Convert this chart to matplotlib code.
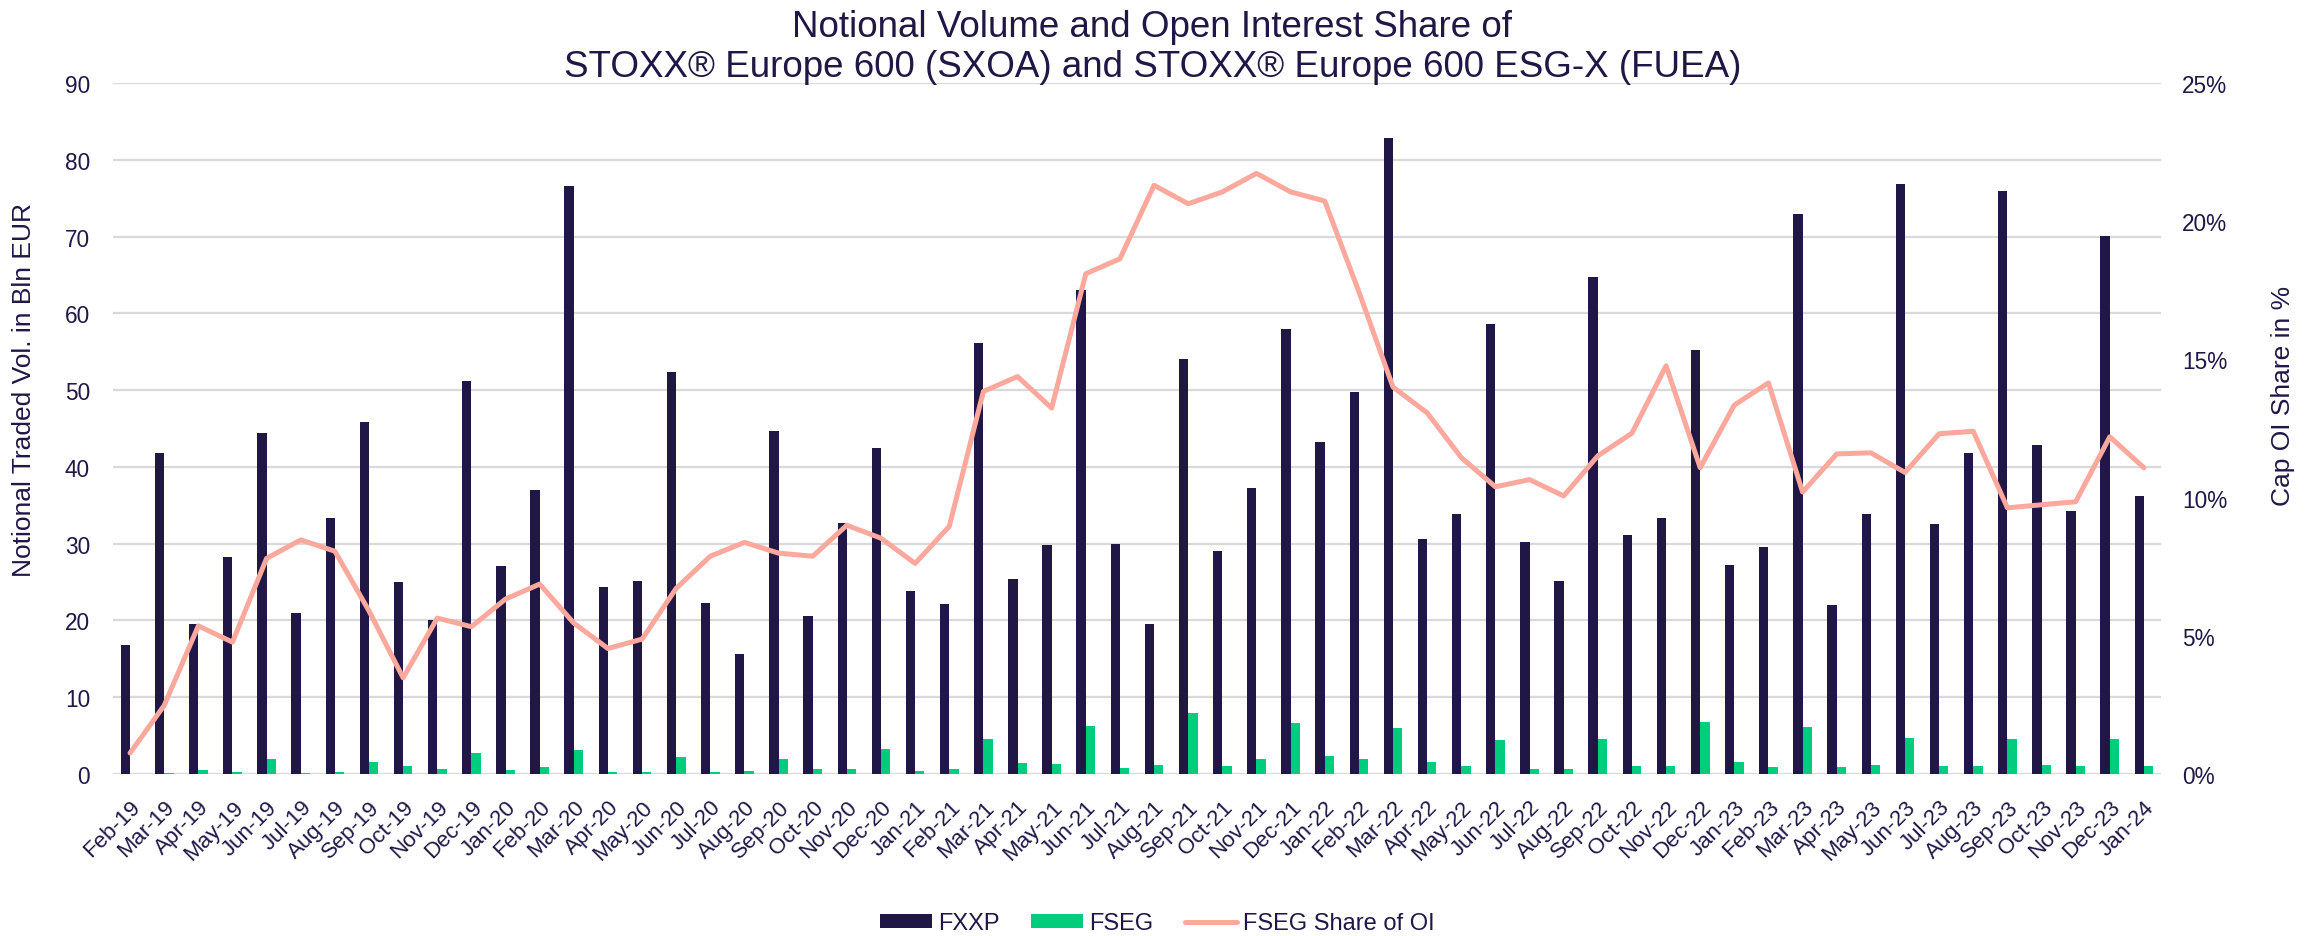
import numpy as np
import matplotlib.pyplot as plt
from matplotlib.ticker import PercentFormatter

plt.rcParams['font.family'] = ['Liberation Sans', 'DejaVu Sans']

# Monthly data, Feb-19 .. Jan-24
months = ['Feb-19', 'Mar-19', 'Apr-19', 'May-19', 'Jun-19', 'Jul-19', 'Aug-19', 'Sep-19',
          'Oct-19', 'Nov-19', 'Dec-19', 'Jan-20', 'Feb-20', 'Mar-20', 'Apr-20', 'May-20',
          'Jun-20', 'Jul-20', 'Aug-20', 'Sep-20', 'Oct-20', 'Nov-20', 'Dec-20', 'Jan-21',
          'Feb-21', 'Mar-21', 'Apr-21', 'May-21', 'Jun-21', 'Jul-21', 'Aug-21', 'Sep-21',
          'Oct-21', 'Nov-21', 'Dec-21', 'Jan-22', 'Feb-22', 'Mar-22', 'Apr-22', 'May-22',
          'Jun-22', 'Jul-22', 'Aug-22', 'Sep-22', 'Oct-22', 'Nov-22', 'Dec-22', 'Jan-23',
          'Feb-23', 'Mar-23', 'Apr-23', 'May-23', 'Jun-23', 'Jul-23', 'Aug-23', 'Sep-23',
          'Oct-23', 'Nov-23', 'Dec-23', 'Jan-24']

# notional traded volume, bln EUR
fxxp = [16.8, 41.8, 19.5, 28.2, 44.4, 21.0, 33.3, 45.8, 25.0, 20.1, 51.2, 27.1,
        37.0, 76.6, 24.3, 25.2, 52.4, 22.3, 15.6, 44.7, 20.6, 32.7, 42.4, 23.8,
        22.2, 56.2, 25.4, 29.8, 63.1, 29.9, 19.5, 54.1, 29.0, 37.3, 58.0, 43.3,
        49.7, 82.8, 30.6, 33.8, 58.6, 30.2, 25.2, 64.7, 31.1, 33.3, 55.2, 27.2,
        29.6, 73.0, 22.0, 33.9, 76.8, 32.6, 41.8, 75.9, 42.9, 34.3, 70.1, 36.2]

fseg = [0.05, 0.15, 0.5, 0.3, 1.9, 0.15, 0.3, 1.55, 1.1, 0.6, 2.8, 0.55,
        0.85, 3.1, 0.2, 0.2, 2.2, 0.3, 0.4, 2.0, 0.6, 0.7, 3.3, 0.45,
        0.7, 4.6, 1.4, 1.25, 6.2, 0.8, 1.2, 8.0, 1.0, 2.0, 6.6, 2.4,
        1.9, 6.0, 1.6, 1.1, 4.4, 0.6, 0.6, 4.5, 1.0, 1.1, 6.8, 1.55,
        0.85, 6.1, 0.85, 1.15, 4.75, 1.1, 1.0, 4.5, 1.15, 1.1, 4.5, 1.1]

# FSEG share of open interest, in %
share_oi = [0.76, 2.48, 5.36, 4.77, 7.8, 8.47, 8.06, 5.9, 3.48, 5.64, 5.33, 6.33,
            6.87, 5.46, 4.54, 4.88, 6.72, 7.88, 8.38, 7.99, 7.88, 9.0, 8.53, 7.62,
            8.96, 13.84, 14.38, 13.24, 18.1, 18.64, 21.3, 20.63, 21.06, 21.73, 21.06, 20.73,
            17.45, 14.0, 13.07, 11.45, 10.39, 10.65, 10.06, 11.51, 12.33, 14.77, 11.08, 13.35,
            14.15, 10.2, 11.58, 11.62, 10.91, 12.31, 12.4, 9.63, 9.74, 9.85, 12.2, 11.08]

navy = '#201747'
green = '#00CC7E'
salmon = '#FCA89D'
grid_col = '#D9D9D9'

W, H = 2305, 937
fig = plt.figure(figsize=(W / 100, H / 100), dpi=100)
# plot area in pixels: x 113..2161, y 84..775
ax = fig.add_axes([113 / W, (H - 775) / H, 2048 / W, 691 / H])

x = np.arange(len(months))
w = 0.273
b1 = ax.bar(x - w / 2, fxxp, w, color=navy, label='FXXP', zorder=2)
b2 = ax.bar(x + w / 2, fseg, w, color=green, label='FSEG', zorder=2)

ax.set_xlim(-0.5, len(months) - 0.5)
ax.set_ylim(0, 90)
ax.set_yticks(range(0, 91, 10))
ax.grid(axis='y', color=grid_col, linewidth=1.6, zorder=0)
ax.set_axisbelow(True)
for s in ax.spines.values():
    s.set_visible(False)
ax.tick_params(axis='both', length=0, labelsize=16.3, colors=navy)
ax.tick_params(axis='y', pad=16.5)
ax.tick_params(axis='x', pad=16)
ax.set_xticks(x)
ax.set_xticklabels(months, rotation=45, ha='right', va='top', rotation_mode='anchor',
                   fontsize=16)
ax.set_ylabel('Notional Traded Vol. in Bln EUR', fontsize=19, color=navy, va='center')
ax.yaxis.set_label_coords(-0.0434, 0.557)

ax2 = ax.twinx()
ln, = ax2.plot(x, share_oi, color=salmon, linewidth=3.6, label='FSEG Share of OI',
               solid_joinstyle='round', solid_capstyle='round', zorder=3)
ax2.set_ylim(0, 25)
ax2.set_yticks(range(0, 26, 5))
ax2.yaxis.set_major_formatter(PercentFormatter(decimals=0))
for s in ax2.spines.values():
    s.set_visible(False)
ax2.tick_params(axis='y', length=0, labelsize=16.3, colors=navy, pad=15)
ax2.set_ylabel('Cap OI Share in %', fontsize=19, color=navy, va='center')
ax2.yaxis.set_label_coords(1.0597, 0.548)

fig.text(0.5, 1 - 37.3 / H, 'Notional Volume and Open Interest Share of',
         ha='center', va='baseline', fontsize=26.5, color=navy)
fig.text(0.5, 1 - 76.7 / H, 'STOXX® Europe 600 (SXOA) and STOXX® Europe 600 ESG-X (FUEA)',
         ha='center', va='baseline', fontsize=26.5, color=navy)

leg = fig.legend(handles=[b1, b2, ln], loc='center', bbox_to_anchor=(0.502, 12.5 / H),
                 ncol=3, frameon=False, fontsize=17, handlelength=2.2, handleheight=0.55,
                 columnspacing=1.35, handletextpad=0.25, borderpad=0, borderaxespad=0)
for t in leg.get_texts():
    t.set_color(navy)

plt.savefig('out.png', dpi=100)
